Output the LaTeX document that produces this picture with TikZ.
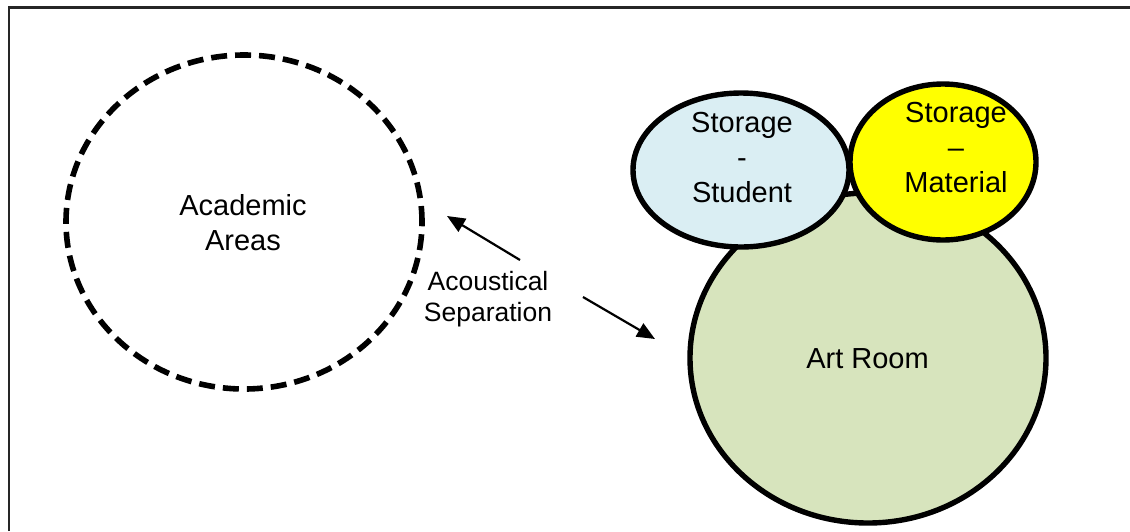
\documentclass[tikz,border=0pt]{standalone}
\usepackage{fontspec}
\setmainfont{Liberation Sans}
\usetikzlibrary{shapes.geometric,arrows.meta}

\definecolor{studentblue}{HTML}{DAEEF3}
\definecolor{artgreen}{HTML}{D7E4BD}
\definecolor{materialyellow}{HTML}{FFFF00}

\tikzset{
  zone/.style={ellipse, draw=black, line width=5.4pt, inner sep=0pt},
  area/.style={zone, line width=5.6pt, dash pattern=on 16pt off 8pt},
  lbl/.style={align=center, inner sep=0pt, font=\fontsize{29}{35}\selectfont},
  smalllbl/.style={align=center, inner sep=0pt, font=\fontsize{26.5}{31}\selectfont},
  link/.style={line width=2.2pt, -{Triangle[length=18pt,width=15pt]}},
  frameline/.style={line width=2.2pt, draw=black!85}
}

\begin{document}
\begin{tikzpicture}[x=1pt,y=-1pt]
  \useasboundingbox (0,0) rectangle (1130,531);

  % outer frame (top and left edges)
  \draw[frameline] (9,531) -- (9,7.5) -- (1130,7.5);

  % academic areas (dashed boundary)
  \node[area, minimum width=356pt, minimum height=334pt] (academic) at (244,222) {};
  \node[lbl] (academicT) at (243,223) {Academic\\Areas};

  % art room with its two storage rooms
  \node[zone, fill=artgreen, minimum width=356pt, minimum height=330pt] (art) at (868,358) {};
  \node[zone, fill=studentblue, minimum width=216pt, minimum height=154pt] (student) at (741,170) {};
  \node[zone, fill=materialyellow, minimum width=186pt, minimum height=156pt] (material) at (943,162) {};

  \node[lbl] (artT) at (867.5,359) {Art Room};
  \node[lbl] (studentT) at (742,158) {Storage\\-\\Student};
  \node[lbl] (materialT) at (956,148) {Storage\\–\\Material};

  % acoustical separation label and arrows
  \node[smalllbl] (sep) at (488,299) {Acoustical\\Separation};
  \coordinate (a1s) at (520,260);
  \coordinate (a1e) at (447,216);
  \coordinate (a2s) at (583,297);
  \coordinate (a2e) at (655,339);
  \draw[link] (a1s) -- (a1e);
  \draw[link] (a2s) -- (a2e);
\end{tikzpicture}
\end{document}
